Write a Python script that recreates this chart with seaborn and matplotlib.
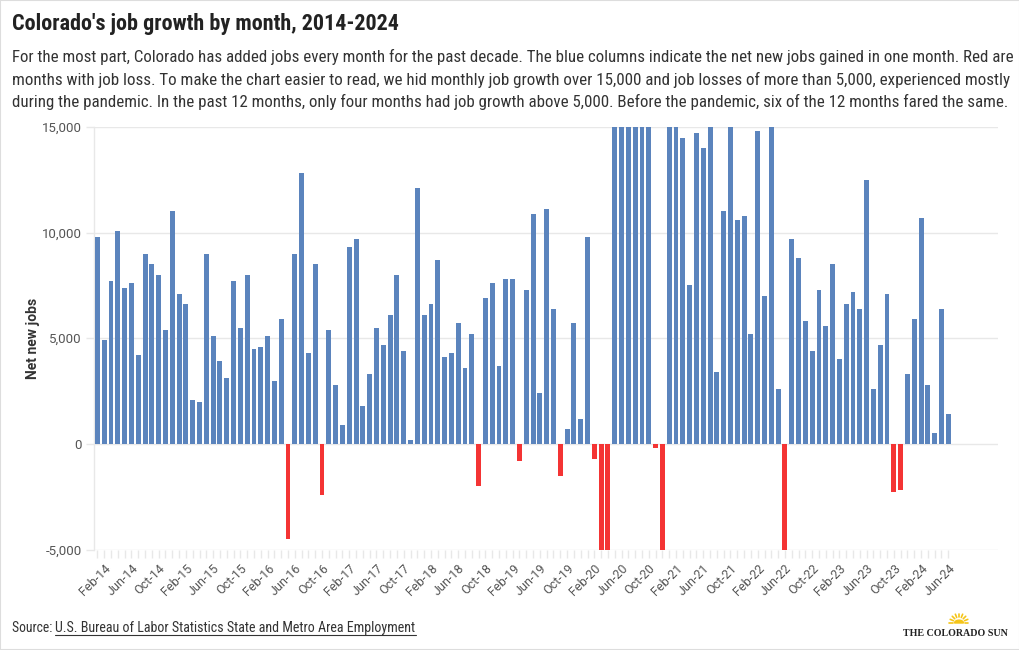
import numpy as np
import pandas as pd
import matplotlib
matplotlib.use("Agg")
import matplotlib.pyplot as plt
import seaborn as sns
from matplotlib import font_manager as fm
from matplotlib.patches import Rectangle, Wedge

# ---------------- data (bars clipped at +15,000 / -5,000) ----------
jobs_2014 = [9800, 4900, 7700, 10100, 7400, 7600, 4200, 9000, 8500, 8000, 5400, 11000]
jobs_2015 = [7100, 6600, 2100, 2000, 9000, 5100, 3900, 3100, 7700, 5500, 8000, 4500]
jobs_2016 = [4600, 5100, 3000, 5900, -4500, 9000, 12800, 4300, 8500, -2400, 5400, 2800]
jobs_2017 = [900, 9300, 9700, 1800, 3300, 5500, 4700, 6100, 8000, 4400, 200, 12100]
jobs_2018 = [6100, 6600, 8700, 4100, 4300, 5700, 3600, 5200, -2000, 6900, 7600, 3700]
jobs_2019 = [7800, 7800, -800, 7300, 10900, 2400, 11100, 6400, -1500, 700, 5700, 1200]
jobs_2020 = [9800, -700, -5000, -5000, 15000, 15000, 15000, 15000, 15000, 15000, -200, -5000]
jobs_2021 = [15000, 15000, 14500, 7500, 14700, 14000, 15000, 3400, 11000, 15000, 10600, 10800]
jobs_2022 = [5200, 14800, 7000, 15000, 2600, -5000, 9700, 8800, 5800, 4400, 7300, 5600]
jobs_2023 = [8500, 4000, 6600, 7200, 6400, 12500, 2600, 4700, 7100, -2300, -2200, 3300]
jobs_2024 = [5900, 10700, 2800, 500, 6400, 1400]

months = list(pd.date_range("2014-01-01", "2024-06-01", freq="MS").strftime("%b-%y"))
jobs = (jobs_2014 + jobs_2015 + jobs_2016 + jobs_2017 + jobs_2018 + jobs_2019 +
        jobs_2020 + jobs_2021 + jobs_2022 + jobs_2023 + jobs_2024)
y_ticks = [-5000, 0, 5000, 10000, 15000]
y_tick_labels = ["-5,000", "0", "5,000", "10,000", "15,000"]

title = "Colorado's job growth by month, 2014-2024"
subtitle_lines = [
    "For the most part, Colorado has added jobs every month for the past decade. The blue columns indicate the net new jobs gained in one month. Red are",
    "months with job loss. To make the chart easier to read, we hid monthly job growth over 15,000 and job losses of more than 5,000, experienced mostly",
    "during the pandemic. In the past 12 months, only four months had job growth above 5,000. Before the pandemic, six of the 12 months fared the same.",
]
source_label = "Source: "
source_link = "U.S. Bureau of Labor Statistics State and Metro Area Employment"
y_label = "Net new jobs"

df = pd.DataFrame({"month": months, "jobs": jobs})
df["kind"] = np.where(df["jobs"] < 0, "loss", "gain")

BLUE = "#5b84bd"
RED = "#f43434"
GRID = "#e8e8e8"
TICK_TXT = "#555555"

# ---------------- fonts ----------------
sns.set_theme(style="white")
names = {f.name for f in fm.fontManager.ttflist}
cond = None
for cand in ["Roboto Condensed", "Liberation Sans Narrow", "DejaVu Sans Condensed"]:
    if cand in names:
        cond = cand
        break
base = "Roboto" if "Roboto" in names else "DejaVu Sans"
text_font = cond if cond else base
plt.rcParams["font.family"] = [base, "DejaVu Sans"]

W, H = 1020, 650
fig = plt.figure(figsize=(W / 100, H / 100), dpi=100)
fig.patch.set_facecolor("white")

def fx(x):
    return x / W

def fy(y):
    return 1 - y / H

ax = fig.add_axes([fx(94), fy(549.5), (998 - 94) / W, (549.5 - 127) / H])

sns.barplot(data=df, x="month", y="jobs", hue="kind", order=months,
            palette={"gain": BLUE, "loss": RED}, dodge=False, width=0.72,
            saturation=1, linewidth=0, legend=False, ax=ax, zorder=3)

ax.set_xlim(-0.5, 132.3)
ax.set_ylim(-5000, 15000)
ax.set_yticks(y_ticks)
ax.set_yticklabels(y_tick_labels)
ax.yaxis.grid(True, color=GRID, linewidth=1, zorder=0)
ax.xaxis.grid(False)
ax.set_axisbelow(True)
for s in ["top", "right", "bottom"]:
    ax.spines[s].set_visible(False)
ax.spines["left"].set_color(GRID)
ax.spines["left"].set_linewidth(1)

xt = list(range(len(months)))
xl = [m if (i % 4 == 1) else "" for i, m in enumerate(months)]
ax.set_xticks(xt)
ax.set_xticklabels(xl, rotation=45, ha="right", rotation_mode="anchor",
                   fontsize=9, color=TICK_TXT)
ax.tick_params(axis="x", length=6, width=1, color=GRID, pad=3, bottom=True)
ax.tick_params(axis="y", length=6, width=1, color=GRID, pad=3, left=True,
               labelsize=9.5, labelcolor=TICK_TXT)
ax.set_xlabel("")
ax.set_ylabel(y_label, fontsize=10, fontweight="bold", color="#333333", labelpad=1)

# ---------------- header text ----------------
fig.canvas.draw()
renderer = fig.canvas.get_renderer()

def fit_text(x, y, s, target_w, size, **kw):
    t = fig.text(fx(x), fy(y), s, fontsize=size, **kw)
    w = t.get_window_extent(renderer).width
    t.set_fontsize(size * target_w / w)
    return t

fit_text(12, 30, title, 388, 16, fontweight="bold", color="#222222",
         family=[text_font, "DejaVu Sans"], va="baseline")
targets = [994, 993, 988]
for i, line in enumerate(subtitle_lines):
    fit_text(12, 62 + i * 22.5, line, targets[i], 11.2, color="#333333",
             family=[text_font, "DejaVu Sans"], va="baseline")

# ---------------- footer ----------------
t1 = fig.text(fx(12), fy(632), source_label, fontsize=9.8, color="#333333",
              family=[text_font, "DejaVu Sans"], va="baseline")
fig.canvas.draw()
x_link = 12 + t1.get_window_extent(renderer).width
t2 = fit_text(x_link, 632, source_link, 417 - x_link, 9.8, color="#333333",
              family=[text_font, "DejaVu Sans"], va="baseline")
bb = t2.get_window_extent(renderer)
fig.add_artist(plt.Line2D([bb.x0 / W, bb.x1 / W], [fy(634.5), fy(634.5)],
                          transform=fig.transFigure, color="#333333", linewidth=0.8))

# logo
serif = "Liberation Serif" if "Liberation Serif" in names else "DejaVu Serif"
fig.text(fx(1008), fy(636), "THE COLORADO SUN", fontsize=7.2, fontweight="bold",
         family=serif, color="#222222", ha="right", va="baseline")
sun_cx, sun_cy = 959, 623
fig.add_artist(Wedge((fx(sun_cx), fy(sun_cy)), 4.5 / W, 0, 180, color="#f5c518",
                     transform=fig.transFigure))
for ang in np.linspace(0, 180, 9):
    a = np.deg2rad(ang)
    r0, r1 = 6, 9.5
    fig.add_artist(plt.Line2D([fx(sun_cx + r0 * np.cos(a)), fx(sun_cx + r1 * np.cos(a))],
                              [fy(sun_cy - r0 * np.sin(a)), fy(sun_cy - r1 * np.sin(a))],
                              transform=fig.transFigure, color="#f5c518", linewidth=1.2))

# thin frame
fig.add_artist(Rectangle((0, 0), 1, 1, transform=fig.transFigure, fill=False,
                         edgecolor="#dddddd", linewidth=1.5))

fig.savefig("out.png", dpi=100, facecolor="white")
